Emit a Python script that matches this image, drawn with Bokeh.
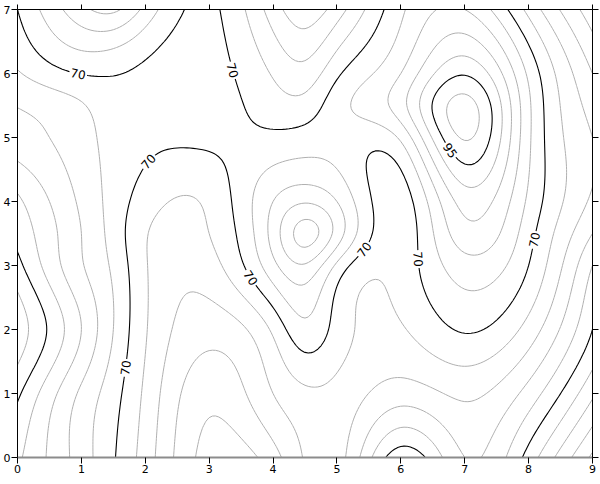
import numpy as np
import contourpy
from bokeh.plotting import figure
from bokeh.models import LinearAxis, FixedTicker, Range1d
from bokeh.core.properties import value
from bokeh.embed import file_html
from bokeh.resources import INLINE

# ---- data: z values on a (non-uniform) grid of nodes ----
x_nodes = [0, 1, 1.5, 2, 3, 4, 4.5, 5, 6, 7, 8, 9]
y_nodes = [0, 1, 2, 3, 3.5, 4, 5, 5.5, 6, 7]
z_y0   = [91, 77.5, 70.5, 62.7, 48, 53, 60.5, 62, 42, 55, 43, 24]
z_y1   = [96, 79, 72, 64, 51.5, 60, 64, 63.5, 57.5, 61, 53, 36]
z_y2   = [103, 85, 75, 65.5, 57, 66, 73.5, 68, 64.5, 70.5, 63, 45]
z_y3   = [96.5, 80.5, 74, 65.5, 63, 78.5, 84.5, 74, 67, 78, 70, 50]
z_y3_5 = [93.5, 80, 73, 65.5, 65, 82, 92, 83, 67, 83, 72, 55]
z_y4   = [91, 79, 73, 67.5, 66, 80, 84.5, 80, 67.5, 87, 74, 59]
z_y5   = [82, 77, 73, 71, 71, 71, 72, 73, 76, 100.5, 76, 60]
z_y5_5 = [79.8, 75.5, 72, 71, 72, 67.5, 67, 73, 83, 102, 76, 58]
z_y6   = [75.5, 69.8, 69.7, 71, 72, 64.5, 62, 69, 80, 94.5, 74, 55]
z_y7   = [70, 56.5, 54, 61.5, 71, 57.5, 52, 57.5, 74, 80, 63.5, 47]

levels = list(range(20, 125, 5))
major_levels = [20, 45, 70, 95, 120]
x_ticks = list(range(0, 10))
y_ticks = list(range(0, 8))

# label hints (approximate places along the labelled contour lines)
label_levels = [70, 70, 70, 70, 70, 70, 70, 70, 95]
label_hint_x = [0.97, 1.94, 3.42, 3.6, 5.45, 6.34, 8.16, 1.73, 6.89]
label_hint_y = [5.98, 4.7, 6.05, 2.8, 3.24, 3.08, 3.39, 1.41, 4.88]


def spline_weights(nodes, t):
    """natural cubic spline as a linear operator (for smooth contour rendering)"""
    nodes = np.asarray(nodes, float)
    n = len(nodes)
    h = np.diff(nodes)
    A = np.zeros((n, n))
    B = np.zeros((n, n))
    A[0, 0] = A[-1, -1] = 1.0
    for i in range(1, n - 1):
        A[i, i - 1] = h[i - 1]
        A[i, i] = 2 * (h[i - 1] + h[i])
        A[i, i + 1] = h[i]
        B[i, i - 1] = 6 / h[i - 1]
        B[i, i] = -6 / h[i - 1] - 6 / h[i]
        B[i, i + 1] = 6 / h[i]
    M = np.linalg.solve(A, B)
    W = np.zeros((len(t), n))
    for k, tk in enumerate(t):
        i = int(np.clip(np.searchsorted(nodes, tk, side="right") - 1, 0, n - 2))
        hi = h[i]
        a = (nodes[i + 1] - tk) / hi
        b = (tk - nodes[i]) / hi
        W[k, i] += a
        W[k, i + 1] += b
        W[k] += ((a ** 3 - a) * M[i] + (b ** 3 - b) * M[i + 1]) * hi ** 2 / 6
    return W


Z = np.array([z_y0, z_y1, z_y2, z_y3, z_y3_5, z_y4, z_y5, z_y5_5, z_y6, z_y7], float)
xf = np.linspace(0, 9, 181)
yf = np.linspace(0, 7, 141)
Zf = spline_weights(y_nodes, yf) @ Z @ spline_weights(x_nodes, xf).T

W, H = 600, 484
p = figure(width=W, height=H, x_range=Range1d(0, 9), y_range=Range1d(0, 7),
           output_backend="svg", toolbar_location=None,
           min_border_left=16, min_border_right=8, min_border_top=9, min_border_bottom=27)
p.grid.visible = False
p.outline_line_color = None
p.background_fill_color = "white"
p.border_fill_color = "white"

colors = ["#000000" if lv in major_levels else "#b0b0b0" for lv in levels]
widths = [1.1 if lv in major_levels else 1.0 for lv in levels]
p.contour(x=xf, y=yf, z=Zf, levels=levels, line_color=colors, line_width=widths)

# ---- inline labels, snapped onto the computed contour lines ----
gen = contourpy.contour_generator(xf, yf, Zf)
sx = 576 / 9.0
sy = 448 / 7.0
lx, ly, la, lt = [], [], [], []
for hx, hy, lev in zip(label_hint_x, label_hint_y, label_levels):
    best = None
    for seg in gen.lines(lev):
        d = (seg[:, 0] - hx) ** 2 + (seg[:, 1] - hy) ** 2
        k = int(np.argmin(d))
        if best is None or d[k] < best[0]:
            best = (d[k], seg, k)
    if best is None:
        continue
    _, seg, k = best
    k0 = max(k - 3, 0)
    k1 = min(k + 3, len(seg) - 1)
    ang = np.arctan2((seg[k1, 1] - seg[k0, 1]) * sy, (seg[k1, 0] - seg[k0, 0]) * sx)
    if ang > np.pi / 2:
        ang -= np.pi
    if ang <= -np.pi / 2:
        ang += np.pi
    lx.append(float(seg[k, 0]))
    ly.append(float(seg[k, 1]))
    la.append(float(ang))
    lt.append(str(lev))

p.rect(x=lx, y=ly, width=18, height=11, angle=la, width_units="screen",
       height_units="screen", fill_color="white", line_color=None)
p.text(x=lx, y=ly, text=lt, angle=la, text_align="center", text_baseline="middle",
       text_font=value("DejaVu Sans"), text_font_size=value("12px"), text_color="black")

# ---- axes ----
for ax in (p.xaxis[0], p.yaxis[0]):
    ax.major_tick_in = 0
    ax.major_tick_out = 6
    ax.minor_tick_in = 0
    ax.minor_tick_out = 0
    ax.major_label_standoff = 1
    ax.major_label_text_font = "DejaVu Sans"
    ax.major_label_text_font_size = "11px"
    ax.major_label_text_color = "black"
    ax.major_tick_line_color = "black"
p.xaxis.ticker = FixedTicker(ticks=x_ticks)
p.yaxis.ticker = FixedTicker(ticks=y_ticks)
p.xaxis.axis_line_color = "#8c8c8c"
p.xaxis.axis_line_width = 2
p.yaxis.axis_line_color = "black"

# top / right frame sides: ticks only (drawn as minor ticks, so no labels exist)
top = LinearAxis(ticker=FixedTicker(ticks=[], minor_ticks=x_ticks),
                 major_tick_in=0, major_tick_out=0, minor_tick_in=0, minor_tick_out=5,
                 minor_tick_line_color="black", axis_line_color="black",
                 major_label_standoff=0)
right = LinearAxis(ticker=FixedTicker(ticks=[], minor_ticks=y_ticks),
                   major_tick_in=0, major_tick_out=0, minor_tick_in=0, minor_tick_out=6,
                   minor_tick_line_color="black", axis_line_color="black",
                   major_label_standoff=0)
p.add_layout(top, "above")
p.add_layout(right, "right")

open("out.html", "w").write(file_html(p, INLINE))
